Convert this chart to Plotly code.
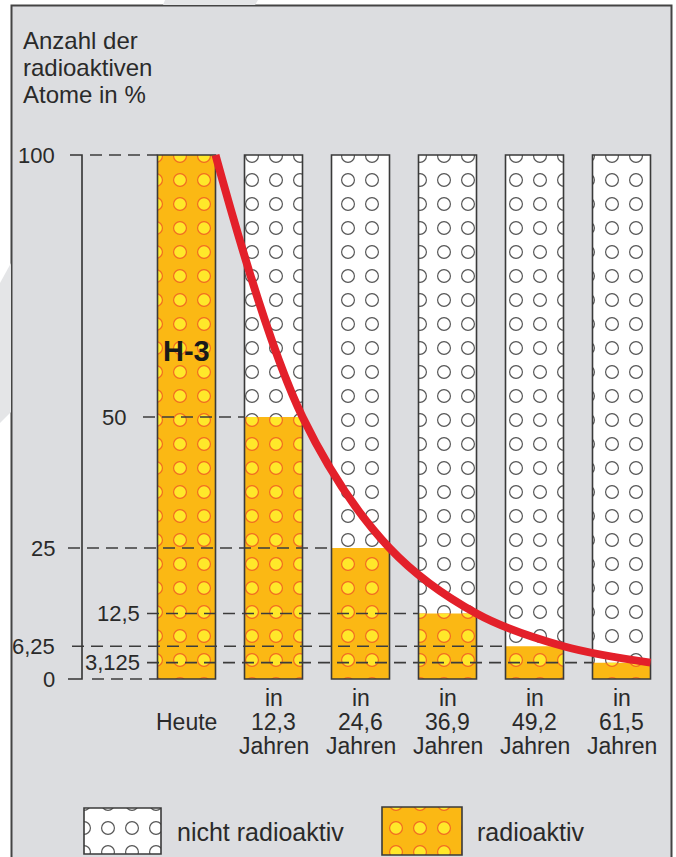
import plotly.graph_objects as go

# Zerfall von Tritium (H-3): Anteil radioaktiver Atome nach je einer Halbwertszeit
zeitpunkte = ["Heute", "in\n12,3\nJahren", "in\n24,6\nJahren", "in\n36,9\nJahren",
              "in\n49,2\nJahren", "in\n61,5\nJahren"]
radioaktiv = [100, 50, 25, 12.5, 6.25, 3.125]
gesamt = [100, 100, 100, 100, 100, 100]
tick_werte = [100, 50, 25, 12.5, 6.25, 3.125, 0]
tick_text = ["100", "50", "25", "12,5", "6,25", "3,125", "0"]
titel_zeilen = ["Anzahl der", "radioaktiven", "Atome in %"]
legende = ["nicht radioaktiv", "radioaktiv"]
isotop = "H-3"

# Seitengeometrie (Pixel)
W, H = 676, 857
X0, DX = 186.5, 87.0   # Mitte der ersten Saeule, Abstand der Saeulen
Y0, DY = 679.0, 5.24   # Hoehe von 0 %, Pixel pro Prozent


def gx(p):
    return (p - X0) / DX


def gy(p):
    return (Y0 - p) / DY


FONT = "Liberation Sans, Arial, sans-serif"
TXT = "#2a2a2a"
GRAU = "#dcdde0"
ORANGE = "#fbb814"
GELB = "#ffe82a"
ROTRAND = "#f26a21"
RAND = "#3a3a3a"
ROT = "#e3202a"

n = len(zeitpunkte)
pos = list(range(n))
bw = 58 / DX


def ring_bars(x, y, base, width, bg, rand, innen, size=24):
    aussen = go.Bar(x=x, y=y, base=base, width=width,
                    marker=dict(color=bg, line_width=0,
                                pattern=dict(shape=".", size=size, solidity=0.267,
                                             fillmode="replace", bgcolor=bg, fgcolor=rand)),
                    hoverinfo="skip", showlegend=False)
    innen_t = go.Bar(x=x, y=y, base=base, width=width,
                     marker=dict(color=bg, line_width=0,
                                 pattern=dict(shape=".", size=size, solidity=0.185,
                                              fillmode="replace", fgcolor=innen)),
                     hoverinfo="skip", showlegend=False)
    rahmen = go.Bar(x=x, y=y, base=base, width=width,
                    marker=dict(color="rgba(0,0,0,0)", line=dict(color=RAND, width=1.6)),
                    hoverinfo="skip", showlegend=False)
    return [aussen, innen_t], rahmen


fig = go.Figure()

weiss, rahmen_w = ring_bars(pos, gesamt, [0] * n, [bw] * n, "white", "#555555", "white")
orange, _ = ring_bars(pos, radioaktiv, [0] * n, [bw] * n, ORANGE, ROTRAND, GELB)
for t in weiss + orange:
    fig.add_trace(t)
fig.add_trace(rahmen_w)

# Legendenfelder
lw, lw_r = ring_bars([gx(122.5)], [gy(808) - gy(854)], [gy(854)], [77 / DX],
                     "white", "#555555", "white")
lo, lo_r = ring_bars([gx(422)], [gy(807) - gy(855)], [gy(855)], [80 / DX],
                     ORANGE, ROTRAND, GELB)
for t in lw + [lw_r] + lo + [lo_r]:
    fig.add_trace(t)

# Hilfslinien zu den Werten
start_px = [90, 143, 68, 147, 72, 147, 92]
label_px = [57, 128, 57, 142, 57, 142, 57]
for v, s in zip(tick_werte, start_px):
    ziel = radioaktiv.index(v) if v in radioaktiv else 0
    fig.add_trace(go.Scatter(x=[gx(s), ziel - bw / 2], y=[v, v], mode="lines",
                             line=dict(color="#3c3c3c", width=1.6, dash="12px,7px"),
                             hoverinfo="skip", showlegend=False))

# Klammer der y-Achse
fig.add_trace(go.Scatter(x=[gx(70), gx(82), gx(82), gx(68)],
                         y=[max(tick_werte), max(tick_werte), min(tick_werte), min(tick_werte)],
                         mode="lines", line=dict(color="#333333", width=1.6),
                         hoverinfo="skip", showlegend=False))

# Zerfallskurve
fig.add_trace(go.Scatter(x=[p + bw / 2 for p in pos], y=radioaktiv, mode="lines",
                         line=dict(color=ROT, width=8, shape="spline", smoothing=1.0),
                         hoverinfo="skip", showlegend=False))

ann = []
for v, t, r in zip(tick_werte, tick_text, label_px):
    ann.append(dict(x=gx(r), y=v, text=t, xanchor="right", yanchor="middle",
                    showarrow=False, font=dict(size=22, color=TXT, family=FONT)))

for p, lab in zip(pos, zeitpunkte):
    zeilen = lab.split("\n")
    if len(zeilen) == 1:
        ys = [722]
    else:
        ys = [698, 722, 746]
    for z, yy in zip(zeilen, ys):
        ann.append(dict(x=p, y=gy(yy), text=z, xanchor="center", yanchor="middle",
                        showarrow=False, font=dict(size=23, color=TXT, family=FONT)))

for z, yy in zip(titel_zeilen, [40, 67, 94]):
    ann.append(dict(x=gx(21), y=gy(yy), text=z, xanchor="left", yanchor="middle",
                    showarrow=False, font=dict(size=24, color=TXT, family=FONT)))

ann.append(dict(x=0, y=gy(351), text="<b>" + isotop + "</b>", xanchor="center",
                yanchor="middle", showarrow=False,
                font=dict(size=29, color="#1a1a1a", family=FONT)))

for z, xx in zip(legende, [175, 475]):
    ann.append(dict(x=gx(xx), y=gy(832), text=z, xanchor="left", yanchor="middle",
                    showarrow=False, font=dict(size=25, color=TXT, family=FONT)))

shapes = [
    dict(type="rect", xref="paper", yref="paper", x0=11.5 / W, x1=671.5 / W,
         y0=-0.01, y1=1 - 5.5 / H, fillcolor=GRAU, line=dict(color="#444444", width=2),
         layer="below"),
    dict(type="path", xref="paper", yref="paper", layer="below", line_width=0,
         fillcolor="#e4e5e7",
         path="M %f %f L %f %f L %f %f L %f %f Z" % (165 / W, 1, 258 / W, 1,
                                                     255 / W, 1 - 5 / H, 163 / W, 1 - 5 / H)),
    dict(type="path", xref="paper", yref="paper", layer="below", line_width=0,
         fillcolor="#e4e5e7",
         path="M %f %f L %f %f L %f %f L %f %f Z" % (11 / W, 1 - 263 / H, 11 / W, 1 - 412 / H,
                                                     0, 1 - 423 / H, 0, 1 - 283 / H)),
]

fig.update_layout(
    width=W, height=H,
    margin=dict(l=0, r=0, t=0, b=0),
    paper_bgcolor="white",
    plot_bgcolor="rgba(0,0,0,0)",
    barmode="overlay",
    xaxis=dict(range=[gx(0), gx(W)], visible=False, fixedrange=True),
    yaxis=dict(range=[gy(H), gy(0)], visible=False, fixedrange=True),
    annotations=ann,
    shapes=shapes,
    showlegend=False,
)

fig.write_html("out.html", config={"displayModeBar": False},
               post_script="document.body.style.margin='0';")
